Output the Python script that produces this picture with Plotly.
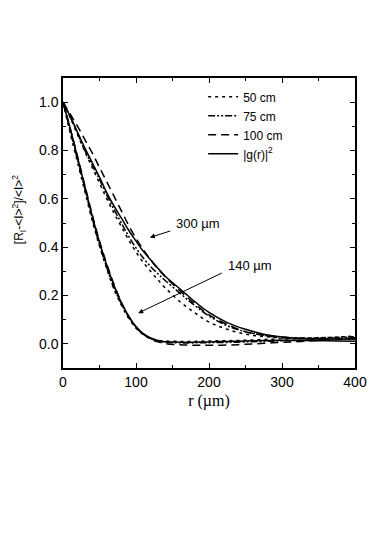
import plotly.graph_objects as go

# radial distance (um)
r = [0, 10, 20, 30, 40, 50, 60, 70, 80, 90, 100, 110, 120, 130, 140,
     160, 180, 200, 225, 250, 275, 300, 325, 350, 375, 400]

# 140 um speckle
g2_140 = [1.0, 0.89, 0.77, 0.65, 0.53, 0.42, 0.325, 0.24, 0.17, 0.115, 0.072, 0.042, 0.024,
          0.014, 0.009, 0.007, 0.007, 0.008, 0.010, 0.012, 0.014, 0.015, 0.014, 0.013, 0.012, 0.011]
cm50_140 = [1.0, 0.87, 0.75, 0.63, 0.51, 0.405, 0.31, 0.225, 0.16, 0.105, 0.065, 0.038, 0.022,
            0.015, 0.012, 0.010, 0.010, 0.012, 0.013, 0.015, 0.018, 0.020, 0.022, 0.025, 0.028, 0.032]
cm75_140 = [1.0, 0.88, 0.76, 0.64, 0.52, 0.41, 0.315, 0.23, 0.165, 0.11, 0.068, 0.040, 0.022,
            0.012, 0.007, 0.004, 0.004, 0.005, 0.006, 0.008, 0.010, 0.012, 0.014, 0.016, 0.018, 0.020]
cm100_140 = [1.0, 0.89, 0.775, 0.655, 0.535, 0.425, 0.33, 0.245, 0.172, 0.113, 0.070, 0.040, 0.020,
             0.008, 0.001, -0.004, -0.006, -0.006, -0.005, -0.002, 0.002, 0.006, 0.010, 0.014, 0.018, 0.022]

# 300 um speckle
g2_300 = [1.0, 0.94, 0.875, 0.81, 0.75, 0.69, 0.625, 0.57, 0.52, 0.47, 0.425, 0.383, 0.348,
          0.313, 0.28, 0.228, 0.176, 0.13, 0.088, 0.06, 0.04, 0.028, 0.022, 0.020, 0.020, 0.020]
cm50_300 = [1.0, 0.935, 0.865, 0.795, 0.73, 0.665, 0.60, 0.54, 0.485, 0.43, 0.38, 0.337, 0.30,
            0.265, 0.232, 0.175, 0.13, 0.09, 0.06, 0.04, 0.03, 0.025, 0.024, 0.025, 0.027, 0.030]
cm75_300 = [1.0, 0.94, 0.87, 0.80, 0.74, 0.68, 0.615, 0.555, 0.50, 0.445, 0.397, 0.355, 0.32,
            0.29, 0.262, 0.21, 0.16, 0.115, 0.075, 0.05, 0.035, 0.028, 0.024, 0.022, 0.023, 0.025]
cm100_300 = [1.0, 0.95, 0.90, 0.845, 0.79, 0.73, 0.67, 0.61, 0.55, 0.49, 0.437, 0.39, 0.348,
             0.31, 0.278, 0.22, 0.167, 0.12, 0.08, 0.05, 0.035, 0.025, 0.021, 0.020, 0.022, 0.025]

series = [
    ("50 cm", "3px,4px", cm50_140, cm50_300),
    ("75 cm", "7px,2px,2px,2px,2px,2px", cm75_140, cm75_300),
    ("100 cm", "8px,5px", cm100_140, cm100_300),
    ("|g(r)|<sup>2</sup>", "solid", g2_140, g2_300),
]

fig = go.Figure()
for name, dash, y140, y300 in series:
    fig.add_trace(go.Scatter(x=r, y=y140, mode="lines", name=name, legendgroup=name,
                             line=dict(color="black", width=1.5, dash=dash, shape="spline")))
    fig.add_trace(go.Scatter(x=r, y=y300, mode="lines", name=name, legendgroup=name,
                             showlegend=False,
                             line=dict(color="black", width=1.5, dash=dash, shape="spline")))

axis_common = dict(
    showgrid=False, zeroline=False, showline=True, linecolor="black", linewidth=1.5,
    mirror="allticks", ticks="inside", ticklen=5, tickwidth=1, tickcolor="black",
    tickfont=dict(family="Liberation Sans, Arial", size=14, color="black"),
)

fig.update_xaxes(range=[0, 400], dtick=100, tick0=0,
                 minor=dict(dtick=50, ticks="inside", ticklen=3, tickcolor="black"),
                 title=dict(text="r (\u00b5m)", standoff=6,
                            font=dict(family="Liberation Serif", size=16, color="black")),
                 **axis_common)
fig.update_yaxes(range=[-0.1, 1.1], dtick=0.2, tick0=0, tickformat=".1f",
                 minor=dict(dtick=0.1, ticks="inside", ticklen=3, tickcolor="black"),
                 **axis_common)

# y-axis label
fig.add_annotation(xref="paper", yref="paper", x=-0.15, y=0.545,
                   text="[R<sub>I</sub>-&lt;I&gt;<sup>2</sup>]/&lt;I&gt;<sup>2</sup>",
                   textangle=-90, showarrow=False, xanchor="center", yanchor="middle",
                   font=dict(family="Liberation Sans, Arial", size=12, color="black"))

# arrows with labels
fig.add_annotation(x=119, y=0.44, ax=149, ay=0.469, xref="x", yref="y", axref="x", ayref="y",
                   text="", showarrow=True, arrowhead=2, arrowsize=1, arrowwidth=1, arrowcolor="black")
fig.add_annotation(x=185, y=0.50, xref="x", yref="y", text="300 \u00b5m", showarrow=False,
                   font=dict(family="Liberation Sans, Arial", size=13, color="black"))
fig.add_annotation(x=103, y=0.127, ax=219.6, ay=0.296, xref="x", yref="y", axref="x", ayref="y",
                   text="", showarrow=True, arrowhead=2, arrowsize=1, arrowwidth=1, arrowcolor="black")
fig.add_annotation(x=256, y=0.324, xref="x", yref="y", text="140 \u00b5m", showarrow=False,
                   font=dict(family="Liberation Sans, Arial", size=13, color="black"))

fig.update_layout(
    width=380, height=545,
    margin=dict(l=55, r=33, t=70, b=185),
    plot_bgcolor="white", paper_bgcolor="white",
    legend=dict(x=0.48, y=0.985, xanchor="left", yanchor="top", bgcolor="rgba(0,0,0,0)",
                font=dict(family="Liberation Sans, Arial", size=12, color="black"),
                tracegroupgap=0, itemwidth=30),
)

fig.write_html("out.html")
